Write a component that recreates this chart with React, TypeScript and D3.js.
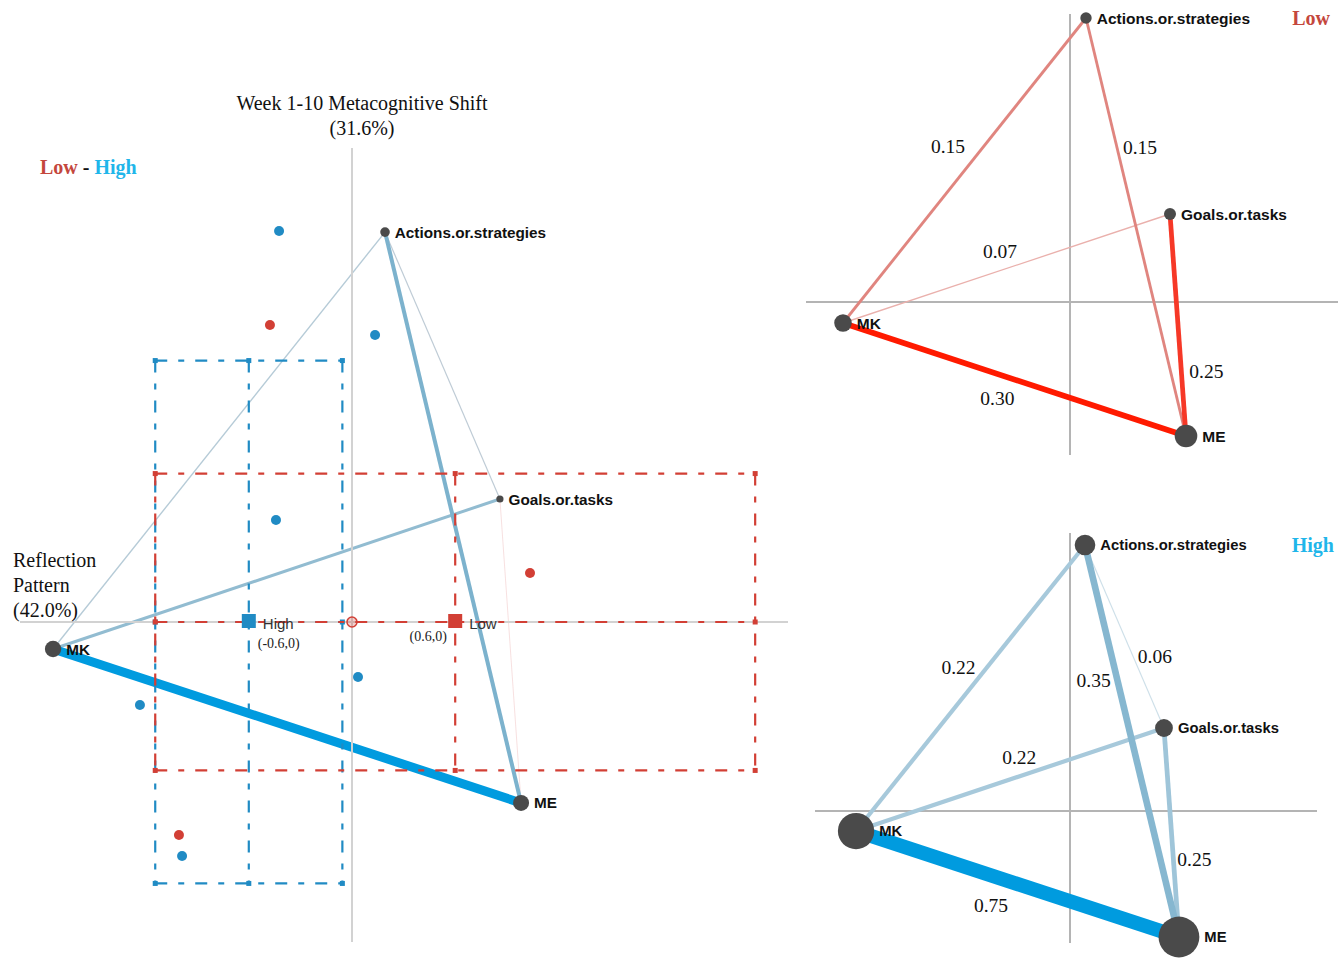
import React from "react";
import * as d3 from "d3";

// ---- data ----------------------------------------------------------------
const nodeNames = ["MK", "ME", "Actions.or.strategies", "Goals.or.tasks"];

// node coordinates on the biplot (dim 1 = metacognitive shift, dim 2 = reflection pattern)
const mainNodeX = [-1.738, 0.983, 0.192, 0.86];
const mainNodeY = [-0.157, -1.052, 2.267, 0.715];
// node coordinates for the group networks
const lowNodeX = [-1.816, 0.928, 0.128, 0.8];
const lowNodeY = [-0.168, -1.072, 2.272, 0.704];
const highNodeX = [-1.783, 0.908, 0.125, 0.783];
const highNodeY = [-0.167, -1.05, 2.217, 0.692];

// edges (indices into nodeNames)
const edgeFrom = [0, 0, 0, 2, 2, 3];
const edgeTo = [2, 3, 1, 3, 1, 1];
const lowWeights = [0.15, 0.07, 0.3, 0, 0.15, 0.25];
const highWeights = [0.22, 0.22, 0.75, 0.06, 0.35, 0.25];

// individual students on the biplot
const highPointX = [-0.424, 0.134, -0.442, 0.035, -1.233, -0.988];
const highPointY = [2.273, 1.669, 0.593, -0.32, -0.483, -1.36];
const lowPointX = [-0.477, 1.035, -1.006, 0.0];
const lowPointY = [1.727, 0.285, -1.238, 0.0];

// group centroids and their spread boxes
const groupNames = ["High", "Low"];
const groupCenterX = [-0.6, 0.6];
const groupCenterY = [0, 0];
const groupHalfWidth = [0.544, 1.744];
const groupHalfHeight = [1.52, 0.863];
const groupCenterLabels = ["(-0.6,0)", "(0.6,0)"];

// ---- styling ---------------------------------------------------------------
const SERIF = "'Liberation Serif', 'Times New Roman', serif";
const SANS = "'Liberation Sans', Arial, sans-serif";
const BLUE = "#208bc4";
const RED = "#d23f35";
const NODE = "#4a4a4a";

// label placement along each edge: t along edge, then pixel offset
const lowLabelPlace = [
  { t: 0.58, dx: -36, dy: 0 },
  { t: 0.48, dx: 0, dy: -19 },
  { t: 0.45, dx: 0, dy: 25 },
  { t: 0.5, dx: 0, dy: 0 },
  { t: 0.31, dx: 23, dy: 0 },
  { t: 0.71, dx: 25, dy: 0 },
];
const highLabelPlace = [
  { t: 0.57, dx: -28, dy: 0 },
  { t: 0.53, dx: 0, dy: -19 },
  { t: 0.418, dx: 0, dy: 30 },
  { t: 0.607, dx: 22, dy: 0 },
  { t: 0.347, dx: -24, dy: 0 },
  { t: 0.63, dx: 21, dy: 0 },
];

const lowColor = d3
  .scaleLinear<string>()
  .domain([0, 0.15, 0.22, 0.3])
  .range(["#f2d6d4", "#e0857f", "#f04a3e", "#ff1a00"])
  .clamp(true);
const highColor = d3
  .scaleLinear<string>()
  .domain([0, 0.4, 0.75])
  .range(["#dde8ee", "#7ab0cc", "#009bdf"])
  .clamp(true);
const diffColor = d3
  .scaleLinear<string>()
  .domain([-0.45, 0, 0.07, 0.2, 0.45])
  .range(["#ff1a00", "#f3d3d3", "#b6cbd7", "#7cb2cd", "#009bdf"])
  .clamp(true);

function strengths(weights: number[]) {
  return nodeNames.map((_, i) =>
    weights.reduce(
      (s, w, k) => s + (edgeFrom[k] === i || edgeTo[k] === i ? Math.abs(w) : 0),
      0
    )
  );
}

type Scale = d3.ScaleLinear<number, number>;

function Network({
  xs,
  ys,
  sx,
  sy,
  weights,
  color,
  widthK,
  radiusK,
  place,
  fontSize,
}: {
  xs: number[];
  ys: number[];
  sx: Scale;
  sy: Scale;
  weights: number[];
  color: (w: number) => string;
  widthK: number;
  radiusK: number;
  place: { t: number; dx: number; dy: number }[];
  fontSize: number;
}) {
  const str = strengths(weights);
  const order = d3.range(weights.length).sort((a, b) => Math.abs(weights[a]) - Math.abs(weights[b]));
  return (
    <g>
      {order.map((k) => {
        const w = weights[k];
        if (w === 0) return null;
        const a = edgeFrom[k];
        const b = edgeTo[k];
        return (
          <line
            key={"e" + k}
            x1={sx(xs[a])}
            y1={sy(ys[a])}
            x2={sx(xs[b])}
            y2={sy(ys[b])}
            stroke={color(w)}
            strokeWidth={Math.max(0.8, widthK * w)}
          />
        );
      })}
      {weights.map((w, k) => {
        if (w === 0) return null;
        const a = edgeFrom[k];
        const b = edgeTo[k];
        const p = place[k];
        const x = sx(xs[a]) + p.t * (sx(xs[b]) - sx(xs[a])) + p.dx;
        const y = sy(ys[a]) + p.t * (sy(ys[b]) - sy(ys[a])) + p.dy;
        return (
          <text
            key={"l" + k}
            x={x}
            y={y}
            textAnchor="middle"
            dominantBaseline="central"
            fontFamily={SERIF}
            fontSize={19.5}
            fill="#111"
          >
            {w.toFixed(2)}
          </text>
        );
      })}
      {nodeNames.map((n, i) => {
        const r = radiusK * str[i] + 1.5;
        return (
          <g key={n}>
            <circle cx={sx(xs[i])} cy={sy(ys[i])} r={r} fill={NODE} />
            <text
              x={sx(xs[i]) + r + 5}
              y={sy(ys[i])}
              dominantBaseline="central"
              fontFamily={SANS}
              fontWeight="bold"
              fontSize={fontSize}
              fill="#111"
            >
              {n}
            </text>
          </g>
        );
      })}
    </g>
  );
}

export default function App() {
  // main biplot scales
  const x = d3.scaleLinear().domain([-2, 2.5]).range([352 - 344, 352 + 430]);
  const y = d3.scaleLinear().domain([-2, 2.75]).range([622 + 344, 622 - 473]);

  // group panel scales
  const lx = d3.scaleLinear().domain([0, 1]).range([1070, 1195]);
  const ly = d3.scaleLinear().domain([0, 1]).range([302, 177]);
  const hx = d3.scaleLinear().domain([0, 1]).range([1070, 1190]);
  const hy = d3.scaleLinear().domain([0, 1]).range([811, 691]);

  const diffs = highWeights.map((h, k) => +(h - lowWeights[k]).toFixed(2));
  const diffStr = strengths(diffs);

  const boxColors = [BLUE, RED];
  const dash = "12,11,6,11";

  return (
    <svg
      width={1338}
      height={958}
      style={{ position: "absolute", left: 0, top: 0, background: "#fff" }}
    >
      {/* ---- main biplot ---- */}
      {/* edges of the difference network */}
      {d3
        .range(diffs.length)
        .sort((a, b) => Math.abs(diffs[a]) - Math.abs(diffs[b]))
        .map((k) => {
          const a = edgeFrom[k];
          const b = edgeTo[k];
          return (
            <line
              key={"d" + k}
              x1={x(mainNodeX[a])}
              y1={y(mainNodeY[a])}
              x2={x(mainNodeX[b])}
              y2={y(mainNodeY[b])}
              stroke={diffColor(diffs[k])}
              strokeWidth={Math.max(0.7, 20 * Math.abs(diffs[k]))}
            />
          );
        })}

      {/* axes */}
      <line x1={x(0)} x2={x(0)} y1={148} y2={942} stroke="#d2d2d2" strokeWidth={2} />
      <line x1={20} x2={788} y1={y(0)} y2={y(0)} stroke="#d2d2d2" strokeWidth={2} />

      {/* group spread boxes */}
      {groupNames.map((g, i) => {
        const x0 = x(groupCenterX[i] - groupHalfWidth[i]);
        const x1 = x(groupCenterX[i] + groupHalfWidth[i]);
        const xc = x(groupCenterX[i]);
        const y0 = y(groupCenterY[i] + groupHalfHeight[i]);
        const y1 = y(groupCenterY[i] - groupHalfHeight[i]);
        const yc = y(groupCenterY[i]);
        const segs = [
          [x0, y0, x1, y0],
          [x0, y1, x1, y1],
          [x0, y0, x0, y1],
          [x1, y0, x1, y1],
          [xc, y0, xc, y1],
          [x0, yc, x1, yc],
        ];
        const ends = [
          [x0, y0], [xc, y0], [x1, y0],
          [x0, y1], [xc, y1], [x1, y1],
          [x0, yc], [x1, yc],
        ];
        return (
          <g key={g}>
            {segs.map((s, j) => (
              <line
                key={j}
                x1={s[0]}
                y1={s[1]}
                x2={s[2]}
                y2={s[3]}
                stroke={boxColors[i]}
                strokeWidth={2.2}
                strokeDasharray={dash}
              />
            ))}
            {ends.map((e, j) => (
              <rect key={"m" + j} x={e[0] - 2.5} y={e[1] - 2.5} width={5} height={5} fill={boxColors[i]} />
            ))}
          </g>
        );
      })}

      {/* students */}
      {highPointX.map((px, i) => (
        <circle key={"hp" + i} cx={x(px)} cy={y(highPointY[i])} r={5} fill={BLUE} />
      ))}
      {lowPointX.map((px, i) => (
        <circle
          key={"lp" + i}
          cx={x(px)}
          cy={y(lowPointY[i])}
          r={5}
          fill={RED}
          fillOpacity={px === 0 && lowPointY[i] === 0 ? 0.25 : 1}
          stroke={RED}
          strokeWidth={px === 0 && lowPointY[i] === 0 ? 1.5 : 0}
        />
      ))}

      {/* group centroids */}
      {groupNames.map((g, i) => {
        const cx = x(groupCenterX[i]);
        const cy = y(groupCenterY[i]);
        return (
          <g key={"c" + g}>
            <rect x={cx - 7} y={cy - 8} width={14} height={14} fill={boxColors[i]} />
            <text
              x={cx + 14}
              y={cy + 1}
              dominantBaseline="central"
              fontFamily={SANS}
              fontSize={15}
              fill="#333"
            >
              {g}
            </text>
            <text
              x={i === 0 ? cx + 30 : cx - 27}
              y={i === 0 ? cy + 21 : cy + 14}
              textAnchor="middle"
              dominantBaseline="central"
              fontFamily={SERIF}
              fontSize={14}
              fill="#222"
            >
              {groupCenterLabels[i]}
            </text>
          </g>
        );
      })}

      {/* nodes of the difference network */}
      {nodeNames.map((n, i) => {
        const r = 10 * diffStr[i] + 1.5;
        return (
          <g key={"mn" + n}>
            <circle cx={x(mainNodeX[i])} cy={y(mainNodeY[i])} r={r} fill={NODE} />
            <text
              x={x(mainNodeX[i]) + r + 5}
              y={y(mainNodeY[i])}
              dominantBaseline="central"
              fontFamily={SANS}
              fontWeight="bold"
              fontSize={15.3}
              fill="#111"
            >
              {n}
            </text>
          </g>
        );
      })}

      {/* titles */}
      <text x={362} y={103} textAnchor="middle" dominantBaseline="central" fontFamily={SERIF} fontSize={20} fill="#111">
        Week 1-10 Metacognitive Shift
      </text>
      <text x={362} y={128} textAnchor="middle" dominantBaseline="central" fontFamily={SERIF} fontSize={20} fill="#111">
        (31.6%)
      </text>
      {["Reflection", "Pattern", "(42.0%)"].map((t, i) => (
        <text key={t} x={13} y={560 + i * 25} dominantBaseline="central" fontFamily={SERIF} fontSize={20} fill="#111">
          {t}
        </text>
      ))}
      <text x={40} y={167} dominantBaseline="central" fontFamily={SERIF} fontSize={20} fontWeight="bold">
        <tspan fill="#c4473d">Low</tspan>
        <tspan fill="#111"> - </tspan>
        <tspan fill="#1fb6ea">High</tspan>
      </text>

      {/* ---- Low group network ---- */}
      <line x1={1070} x2={1070} y1={14} y2={455} stroke="#b4b4b4" strokeWidth={2} />
      <line x1={806} x2={1338} y1={302} y2={302} stroke="#b4b4b4" strokeWidth={2} />
      <Network
        xs={lowNodeX}
        ys={lowNodeY}
        sx={lx}
        sy={ly}
        weights={lowWeights}
        color={lowColor}
        widthK={19}
        radiusK={14}
        place={lowLabelPlace}
        fontSize={15.5}
      />
      <text x={1330} y={18} textAnchor="end" dominantBaseline="central" fontFamily={SERIF} fontSize={20} fontWeight="bold" fill="#c4473d">
        Low
      </text>

      {/* ---- High group network ---- */}
      <line x1={1070} x2={1070} y1={533} y2={943} stroke="#b4b4b4" strokeWidth={2} />
      <line x1={815} x2={1317} y1={811} y2={811} stroke="#b4b4b4" strokeWidth={2} />
      <Network
        xs={highNodeX}
        ys={highNodeY}
        sx={hx}
        sy={hy}
        weights={highWeights}
        color={highColor}
        widthK={19}
        radiusK={14}
        place={highLabelPlace}
        fontSize={14.8}
      />
      <text x={1334} y={545} textAnchor="end" dominantBaseline="central" fontFamily={SERIF} fontSize={20} fontWeight="bold" fill="#1fb6ea">
        High
      </text>
    </svg>
  );
}
